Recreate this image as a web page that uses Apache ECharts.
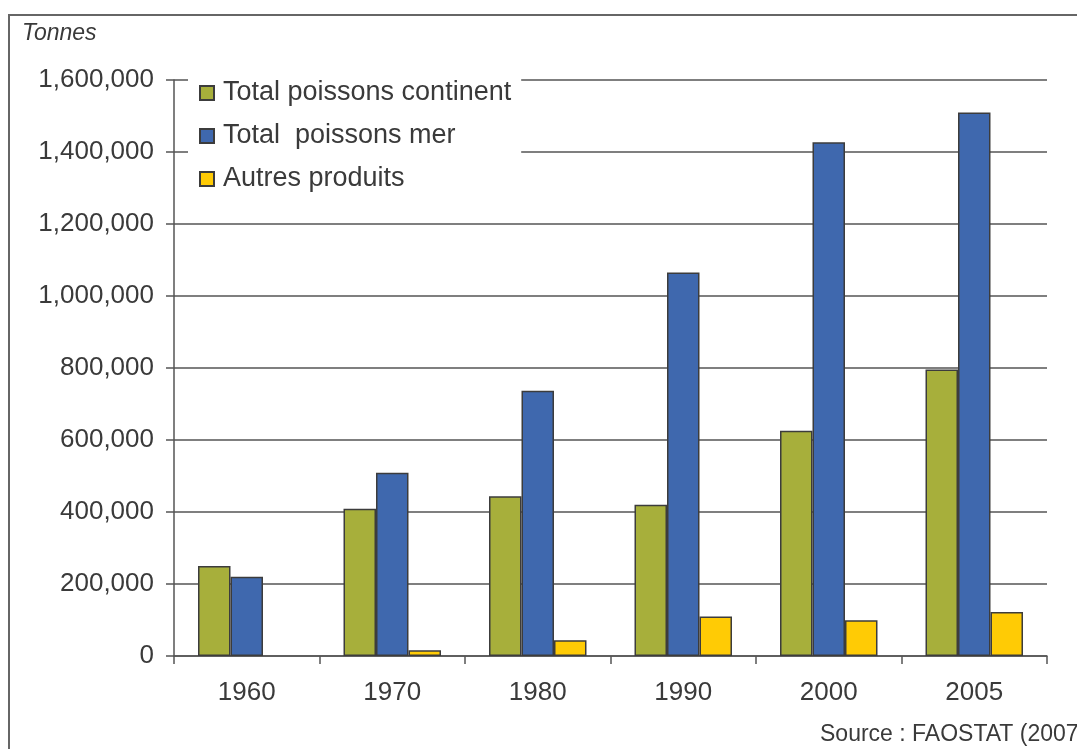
<!DOCTYPE html>
<html>
<head>
<meta charset="utf-8">
<title>Production halieutique</title>
<script src="https://cdn.jsdelivr.net/npm/echarts@6/dist/echarts.min.js"></script>
<style>
  html, body { margin: 0; padding: 0; background: #fff; }
  #chart { width: 1077px; height: 749px; }
</style>
</head>
<body>
<div id="chart"></div>
<script>
// annees
var years = ['1960', '1970', '1980', '1990', '2000', '2005'];
// tonnes
var poissonsContinent = [250000, 409000, 444000, 420000, 626000, 796000];
var poissonsMer = [220000, 509000, 737000, 1065000, 1427000, 1510000];
var autresProduits = [null, 16000, 44000, 110000, 99000, 122000];
var seriesNames = ['Total poissons continent', 'Total  poissons mer', 'Autres produits'];
var yTicks = [0, 200000, 400000, 600000, 800000, 1000000, 1200000, 1400000, 1600000];

var textColor = '#3a3a3a';
var lineColor = '#555';
var font = 'Liberation Sans, Arial, sans-serif';

function bar(name, data, color) {
  return {
    name: name,
    type: 'bar',
    data: data,
    barGap: '0%',
    barCategoryGap: '33%',
    itemStyle: {
      color: color,
      borderColor: '#3c3c3c',  // contour des barres
      borderWidth: 1.5
    }
  };
}

var myChart = echarts.init(document.getElementById('chart'));
myChart.setOption({
  animation: false,
  grid: {
    left: 174,
    right: 30,
    top: 80,
    bottom: 93
  },
  legend: {
    orient: 'vertical',
    left: 188,
    top: 70,
    backgroundColor: '#fff',
    padding: [8, 10, 12, 11],
    itemWidth: 14,
    itemHeight: 14,
    itemGap: 13,
    icon: 'rect',
    textStyle: {
      fontFamily: font,
      fontSize: 27,
      lineHeight: 30,
      color: textColor,
      padding: [0, 0, 0, 4]
    },
    data: seriesNames
  },
  xAxis: {
    type: 'category',
    data: years,
    axisLine: { lineStyle: { color: lineColor, width: 1.5 } },
    axisTick: { show: true, length: 8, lineStyle: { color: lineColor, width: 1.5 } },
    axisLabel: {
      color: textColor,
      fontFamily: font,
      fontSize: 26,
      margin: 24
    }
  },
  yAxis: {
    type: 'value',
    min: yTicks[0],
    max: yTicks[yTicks.length - 1],
    interval: yTicks[1] - yTicks[0],
    axisLine: { show: true, lineStyle: { color: lineColor, width: 1.5 } },
    axisTick: { show: true, length: 8, lineStyle: { color: lineColor, width: 1.5 } },
    axisLabel: {
      color: textColor,
      fontFamily: font,
      fontSize: 26,
      margin: 20,
      formatter: function (v) {
        return String(v).replace(/\B(?=(\d{3})+(?!\d))/g, ',');
      }
    },
    splitLine: { lineStyle: { color: lineColor, width: 1.5 } }
  },
  graphic: [
    {
      // cadre autour du graphique
      type: 'rect',
      shape: { x: 9, y: 15, width: 1200, height: 900 },
      style: { fill: 'none', stroke: '#666', lineWidth: 2 },
      silent: true
    },
    {
      type: 'text',
      left: 22,
      top: 22,
      style: {
        text: 'Tonnes',
        fontFamily: font,
        fontStyle: 'italic',
        fontSize: 23,
        fill: textColor
      }
    },
    {
      type: 'text',
      left: 820,
      top: 723,
      style: {
        text: 'Source : FAOSTAT (2007)',
        fontFamily: font,
        fontSize: 23,
        fill: textColor
      }
    }
  ],
  series: [
    bar(seriesNames[0], poissonsContinent, '#a7af3b'),
    bar(seriesNames[1], poissonsMer, '#3f68ae'),
    bar(seriesNames[2], autresProduits, '#ffcb05')
  ]
});
</script>
</body>
</html>
